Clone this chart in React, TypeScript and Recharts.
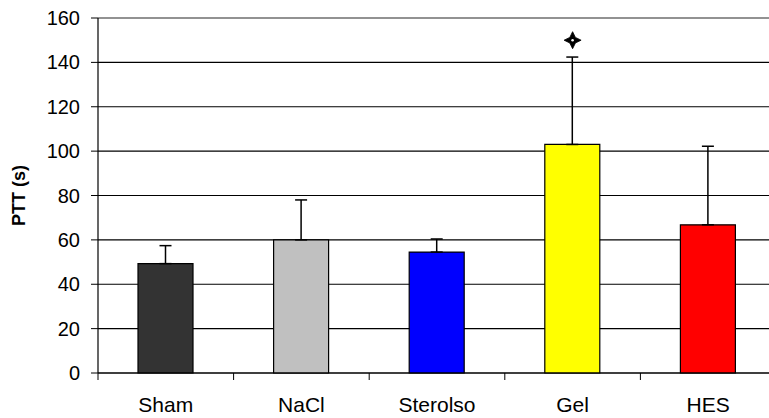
import { Bar, BarChart, CartesianGrid, Cell, ErrorBar, ReferenceDot, ReferenceLine, XAxis, YAxis } from "recharts";

const categories = ["Sham", "NaCl", "Sterolso", "Gel", "HES"];
const means = [49.3, 60, 54.5, 103, 66.8];
const errUp = [8.1, 18, 5.9, 39.4, 35.4];
const colors = ["#333333", "#C0C0C0", "#0000FF", "#FFFF00", "#FF0000"];
const yTicks = [0, 20, 40, 60, 80, 100, 120, 140, 160];
const markedCategory = "Gel";
const markedValue = 150;

const data = categories.map((name, i) => ({
	name,
	ptt: means[i],
	err: [0, errUp[i]],
}));

const font = "'Liberation Sans', Arial, sans-serif";

function CategoryTick(props: any) {
	const { x, y, payload } = props;
	const half = payload?.offset ?? 67.75;
	return (
		<g>
			<line x1={x - half} x2={x - half} y1={y} y2={y + 7} stroke="#000" strokeWidth={1} />
			<text x={x} y={y + 39} textAnchor="middle" fontSize={21} fontFamily={font} fill="#000">
				{payload.value}
			</text>
		</g>
	);
}

function YLabel(props: any) {
	const { viewBox } = props;
	const cx = viewBox.x + 19;
	const cy = viewBox.y + viewBox.height / 2;
	return (
		<text
			x={cx}
			y={cy}
			transform={`rotate(-90, ${cx}, ${cy})`}
			textAnchor="middle"
			dominantBaseline="central"
			fontSize={18}
			fontWeight="bold"
			fontFamily={font}
			fill="#000"
		>
			PTT (s)
		</text>
	);
}

function Star(props: any) {
	const { cx, cy } = props;
	const r = 8.5;
	const k = 2.8;
	const d = `M${cx},${cy - r} L${cx + k},${cy - k} L${cx + r},${cy} L${cx + k},${cy + k} L${cx},${cy + r} L${cx - k},${cy + k} L${cx - r},${cy} L${cx - k},${cy - k} Z`;
	return (
		<g>
			<path d={d} fill="#000" stroke="#000" strokeWidth={0.8} strokeLinejoin="round" />
			<circle cx={cx} cy={cy} r={1.3} fill="#fff" />
		</g>
	);
}

export default function App() {
	return (
		<div style={{ position: "absolute", left: 0, top: 0, width: 769, height: 418, overflow: "hidden", background: "#fff" }}>
			<BarChart
				width={776}
				height={418}
				data={data}
				margin={{ top: 18, right: 0, bottom: 0, left: 0 }}
				barCategoryGap={0}
			>
				<CartesianGrid vertical={false} stroke="#000" strokeWidth={1.2} />
				<ReferenceLine y={160} stroke="#999" strokeWidth={1.5} />
				<XAxis
					dataKey="name"
					height={45}
					axisLine={{ stroke: "#000", strokeWidth: 1.2 }}
					tickLine={false}
					tickSize={0}
					tickMargin={0}
					interval={0}
					tick={<CategoryTick />}
				/>
				<YAxis
					width={98}
					domain={[0, 160]}
					ticks={yTicks}
					interval={0}
					axisLine={{ stroke: "#000", strokeWidth: 1.2 }}
					tickLine={{ stroke: "#000" }}
					tickSize={7}
					tickMargin={11}
					tick={{ fontSize: 20, fontFamily: font, fill: "#000" }}
					label={<YLabel />}
				/>
				<Bar dataKey="ptt" barSize={55} stroke="#000" strokeWidth={1.2} isAnimationActive={false}>
					{data.map((d, i) => (
						<Cell key={d.name} fill={colors[i]} />
					))}
					<ErrorBar dataKey="err" direction="y" width={6} stroke="#000" strokeWidth={1.5} isAnimationActive={false} />
				</Bar>
				<ReferenceDot x={markedCategory} y={markedValue} shape={<Star />} ifOverflow="visible" />
			</BarChart>
		</div>
	);
}
